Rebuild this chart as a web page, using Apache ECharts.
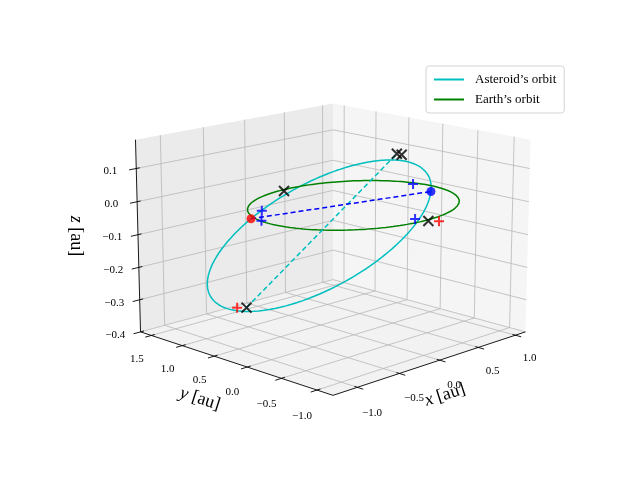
<!DOCTYPE html>
<html>
<head>
<meta charset="utf-8">
<script src="https://cdn.jsdelivr.net/npm/echarts@6/dist/echarts.min.js"></script>
<style>html,body{margin:0;padding:0;background:#fff}#chart{width:640px;height:480px}</style>
</head>
<body>
<div id="chart"></div>
<script>
// axis limits and ticks (au)
const xLim = [-1.28, 1.14];
const yLim = [-1.22, 1.68];
const zLim = [-0.4, 0.186];
const xTicks = [-1.0, -0.5, 0.0, 0.5, 1.0];
const yTicks = [-1.0, -0.5, 0.0, 0.5, 1.0, 1.5];
const zTicks = [-0.4, -0.3, -0.2, -0.1, 0.0, 0.1];

// orbits
const earthRadius = 1.0;
const asteroidA = 1.08;      // semi-major axis
const asteroidE = 0.39;      // eccentricity
const asteroidInc = 8.2;     // inclination, degrees

// marked points [x, y, z]
const asteroidPos = [115];   // true anomaly of red dot
const earthPos = [-63];      // true anomaly of blue dot (on asteroid orbit)
const blackX = [[-0.086, 0.953, 0], [0.005, -1.036, 0], [0.67, 0.15, 0.11], [0.67, 0.08, 0.11], [-1.28, 0.0, -0.225]];
const redPlus = [[-1.34, 0.06, -0.225], [0.06, -1.12, 0]];
const bluePlus = [[-0.735, 0.467, 0], [-0.98, 0.157, 0], [0.934, 0.201, 0], [-0.021, -0.883, 0]];

// view
const elev = 14.5 * Math.PI / 180, azim = -135 * Math.PI / 180;
const dist = 7, focal = 1930, zAspect = 0.72, cx = 333, cy = 237;

function proj(x, y, z) {
  const X = (x - (xLim[0] + xLim[1]) / 2) / (xLim[1] - xLim[0]);
  const Y = (y - (yLim[0] + yLim[1]) / 2) / (yLim[1] - yLim[0]);
  const Z = (z - (zLim[0] + zLim[1]) / 2) / (zLim[1] - zLim[0]) * zAspect;
  const ce = Math.cos(elev), se = Math.sin(elev), ca = Math.cos(azim), sa = Math.sin(azim);
  const r = -sa * X + ca * Y;
  const u = -se * ca * X - se * sa * Y + ce * Z;
  const w = ce * ca * X + ce * sa * Y + se * Z;
  const d = dist - w;
  return [cx + r * focal / d, cy - u * focal / d];
}

function asteroid(nuDeg) {
  const nu = nuDeg * Math.PI / 180, i = asteroidInc * Math.PI / 180;
  const p = asteroidA * (1 - asteroidE * asteroidE);
  const r = p / (1 + asteroidE * Math.cos(nu));
  return [r * Math.cos(nu) * Math.cos(i), r * Math.sin(nu), r * Math.cos(nu) * Math.sin(i)];
}

const angles = [];
for (let t = 0; t <= 360; t += 2) angles.push(t);
const earthLine = angles.map(t => proj(earthRadius * Math.cos(t * Math.PI / 180), earthRadius * Math.sin(t * Math.PI / 180), 0));
const asteroidLine = angles.map(t => proj(...asteroid(t)));
const apsides = [proj(...blackX[4]), proj(...blackX[2])];
const sightLine = [proj(...asteroid(asteroidPos[0])), proj(...asteroid(earthPos[0]))];

const fmt = v => (v < 0 ? '\u2212' : '') + Math.abs(v).toFixed(1);
const FONT = '"Liberation Serif", "DejaVu Serif", serif';

function renderFrame(params, api) {
  const c = p => api.coord(proj(...p));
  const [x0, x1] = xLim, [y0, y1] = yLim, [z0, z1] = zLim;
  const kids = [];
  const poly = (pts, fill) => kids.push({type: 'polygon', shape: {points: pts.map(c)}, style: {fill: fill, stroke: null}});
  const seg = (a, b, col, lw) => {
    const p = c(a), q = c(b);
    kids.push({type: 'line', shape: {x1: p[0], y1: p[1], x2: q[0], y2: q[1]}, style: {stroke: col, lineWidth: lw}});
  };
  const txt = (p, s) => {
    const q = c(p);
    kids.push({type: 'text', style: {x: q[0], y: q[1], text: s, fill: '#000', font: '11px ' + FONT, align: 'center', verticalAlign: 'middle'}});
  };
  poly([[x0, y1, z0], [x1, y1, z0], [x1, y1, z1], [x0, y1, z1]], '#ebebeb');
  poly([[x1, y0, z0], [x1, y1, z0], [x1, y1, z1], [x1, y0, z1]], '#f5f5f5');
  poly([[x0, y0, z0], [x1, y0, z0], [x1, y1, z0], [x0, y1, z0]], '#f2f2f2');
  const g = '#b8b8b8';
  xTicks.forEach(x => { seg([x, y0, z0], [x, y1, z0], g, 0.8); seg([x, y1, z0], [x, y1, z1], g, 0.8); });
  yTicks.forEach(y => { seg([x0, y, z0], [x1, y, z0], g, 0.8); seg([x1, y, z0], [x1, y, z1], g, 0.8); });
  zTicks.forEach(z => { seg([x0, y1, z], [x1, y1, z], g, 0.8); seg([x1, y1, z], [x1, y0, z], g, 0.8); });
  seg([x0, y0, z0], [x1, y0, z0], '#000', 0.9);
  seg([x0, y0, z0], [x0, y1, z0], '#000', 0.9);
  seg([x0, y1, z0], [x0, y1, z1], '#000', 0.9);
  xTicks.forEach(x => { seg([x, y0 + 0.04, z0], [x, y0 - 0.08, z0], '#000', 0.9); txt([x, y0 - 0.2, z0 - 0.06], fmt(x)); });
  yTicks.forEach(y => { seg([x0 + 0.04, y, z0], [x0 - 0.07, y, z0], '#000', 0.9); txt([x0 - 0.17, y, z0 - 0.06], fmt(y)); });
  zTicks.forEach(z => { seg([x0 + 0.04, y1, z], [x0 - 0.08, y1, z], '#000', 0.9); txt([x0 - 0.22, y1 + 0.1, z], fmt(z)); });
  return {type: 'group', children: kids};
}

const X_PATH = 'path://M0,0L10,10M10,0L0,10';
const PLUS_PATH = 'path://M5,0L5,10M0,5L10,5';
const markerSeries = (name, pts, path, col) => ({
  name: name, type: 'scatter', symbol: path, symbolSize: 10, z: 5,
  itemStyle: {color: 'none', borderColor: col, borderWidth: 2},
  data: pts.map(p => proj(...p))
});

const chart = echarts.init(document.getElementById('chart'));
chart.setOption({
  animation: false,
  grid: {left: 0, right: 0, top: 0, bottom: 0},
  xAxis: {type: 'value', min: 0, max: 640, show: false},
  yAxis: {type: 'value', min: 0, max: 480, inverse: true, show: false},
  legend: {
    left: 426, top: 66, orient: 'vertical', itemGap: 7, itemWidth: 30, itemHeight: 2, icon: 'rect',
    padding: [7, 8], backgroundColor: '#fff', borderColor: '#d3d3d3', borderWidth: 1, borderRadius: 3,
    textStyle: {fontFamily: FONT, fontSize: 13, color: '#000', padding: [0, 0, 0, 6]},
    data: ['Asteroid\u2019s orbit', 'Earth\u2019s orbit']
  },
  series: [
    {type: 'custom', renderItem: renderFrame, data: [[0, 0]], silent: true, z: 0},
    {name: 'Asteroid\u2019s orbit', type: 'line', data: asteroidLine, showSymbol: false, color: '#00bfbf', lineStyle: {width: 1.5}, z: 3},
    {name: 'Earth\u2019s orbit', type: 'line', data: earthLine, showSymbol: false, color: '#008000', lineStyle: {width: 1.5}, z: 3},
    {type: 'line', data: apsides, showSymbol: false, color: '#00bfbf', lineStyle: {width: 1.5, type: [5, 3]}, z: 3},
    {type: 'line', data: sightLine, showSymbol: false, color: '#0000ff', lineStyle: {width: 1.5, type: [5, 3]}, z: 3},
    {type: 'scatter', symbol: 'circle', symbolSize: 9, z: 6, itemStyle: {color: '#ff0000'}, data: [sightLine[0]]},
    {type: 'scatter', symbol: 'circle', symbolSize: 9, z: 6, itemStyle: {color: '#0000ff'}, data: [sightLine[1]]},
    markerSeries('x', blackX, X_PATH, '#000'),
    markerSeries('rp', redPlus, PLUS_PATH, '#ff0000'),
    markerSeries('bp', bluePlus, PLUS_PATH, '#0000ff')
  ],
  graphic: [
    {type: 'text', x: 445, y: 395, rotation: 0.31, style: {text: '{i|x} [au]', fill: '#000', font: '18px ' + FONT, align: 'center', verticalAlign: 'middle', rich: {i: {fontStyle: 'italic', fontSize: 18, fontFamily: FONT}}}},
    {type: 'text', x: 200, y: 399, rotation: -0.31, style: {text: '{i|y} [au]', fill: '#000', font: '18px ' + FONT, align: 'center', verticalAlign: 'middle', rich: {i: {fontStyle: 'italic', fontSize: 18, fontFamily: FONT}}}},
    {type: 'text', x: 76, y: 236, rotation: -Math.PI / 2, style: {text: '{i|z} [au]', fill: '#000', font: '18px ' + FONT, align: 'center', verticalAlign: 'middle', rich: {i: {fontStyle: 'italic', fontSize: 18, fontFamily: FONT}}}}
  ]
});
</script>
</body>
</html>
